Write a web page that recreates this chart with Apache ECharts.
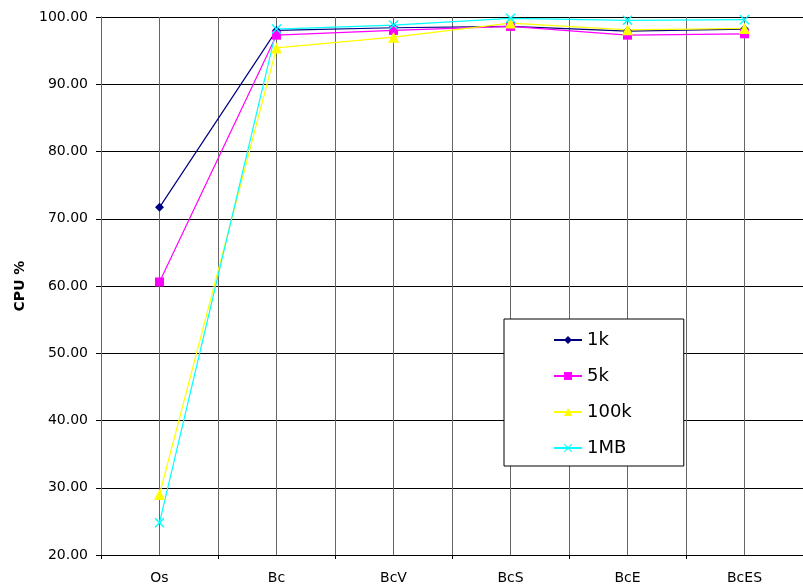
<!DOCTYPE html>
<html>
<head>
<meta charset="utf-8">
<script src="https://cdn.jsdelivr.net/npm/echarts@6/dist/echarts.min.js"></script>
<style>html,body{margin:0;padding:0;background:#fff}#c{width:803px;height:588px}</style>
</head>
<body>
<div id="c"></div>
<script>
const categories = ['Os', 'Bc', 'BcV', 'BcS', 'BcE', 'BcES'];
const s1k   = [71.7, 98.0, 98.4, 98.6, 97.9, 98.2];
const s5k   = [60.6, 97.3, 98.0, 98.6, 97.3, 97.5];
const s100k = [29.0, 95.4, 97.0, 99.1, 98.1, 98.3];
const s1MB  = [24.8, 98.2, 98.8, 99.8, 99.5, 99.6];
const yTicks = [20, 30, 40, 50, 60, 70, 80, 90, 100];

const FONT = '"DejaVu Sans", "Liberation Sans", Arial, sans-serif';
const xPath = 'path://M0,1L1,0L5,4L9,0L10,1L6,5L10,9L9,10L5,6L1,10L0,9L4,5Z';

const chart = echarts.init(document.getElementById('c'));
function mk(name, data, color, symbol, size) {
  return {
    name, type: 'line', data, xAxisIndex: 0,
    symbol, symbolSize: size, showSymbol: true,
    lineStyle: { color, width: 1.2 },
    itemStyle: { color },
    animation: false
  };
}
chart.setOption({
  animation: false,
  textStyle: { fontFamily: FONT },
  grid: { left: 101, right: 0, top: 17, bottom: 33, containLabel: false },
  xAxis: [{
    type: 'category', data: categories, boundaryGap: true,
    axisLine: { lineStyle: { color: '#000', width: 1 } },
    axisTick: { show: true, length: 4, lineStyle: { color: '#000' } },
    axisLabel: { color: '#000', fontSize: 14, fontFamily: FONT, margin: 16 },
    splitLine: { show: false }
  }, {
    type: 'value', min: 0, max: 12, interval: 1, position: 'bottom',
    axisLine: { show: false }, axisTick: { show: false }, axisLabel: { show: false },
    splitLine: { show: true, lineStyle: { color: '#666', width: 1 } }
  }],
  yAxis: {
    type: 'value', min: yTicks[0], max: yTicks[yTicks.length - 1], interval: 10,
    name: 'CPU %', nameLocation: 'middle', nameRotate: 90, nameGap: 74,
    nameTextStyle: { fontWeight: 'bold', fontSize: 14, color: '#000', fontFamily: FONT },
    axisLine: { show: true, lineStyle: { color: '#666', width: 1 } },
    axisTick: { show: true, length: 5, lineStyle: { color: '#000' } },
    axisLabel: { color: '#000', fontSize: 14, fontFamily: FONT, margin: 13,
      formatter: v => v.toFixed(2) },
    splitLine: { show: true, lineStyle: { color: '#000', width: 1 } }
  },
  legend: {
    orient: 'vertical', left: 504, top: 319,
    padding: [12, 52, 9, 49], itemGap: 18,
    itemWidth: 28, itemHeight: 10,
    backgroundColor: '#fff', borderColor: '#000', borderWidth: 1,
    textStyle: { fontSize: 18, color: '#000', fontFamily: FONT },
    data: ['1k', '5k', '100k', '1MB']
  },
  series: [
    mk('1k', s1k, '#000080', 'diamond', 9),
    mk('5k', s5k, '#FF00FF', 'rect', 9),
    mk('100k', s100k, '#FFFF00', 'triangle', 11),
    mk('1MB', s1MB, '#00FFFF', xPath, 10)
  ]
});
</script>
</body>
</html>
